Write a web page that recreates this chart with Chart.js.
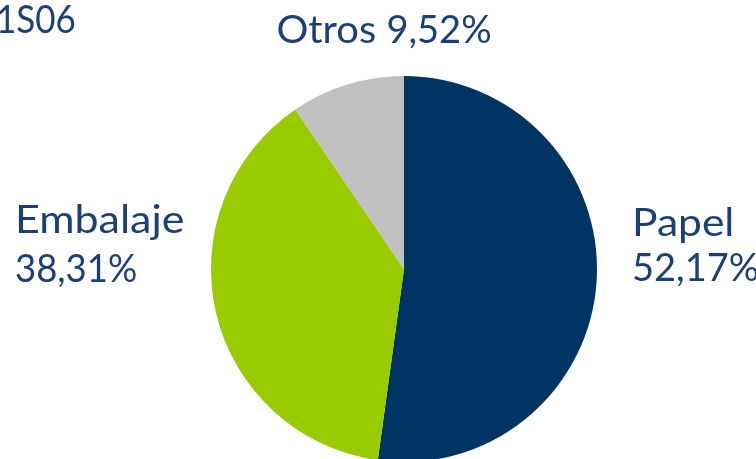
<!DOCTYPE html>
<html>
<head>
<meta charset="utf-8">
<script src="https://cdn.jsdelivr.net/npm/chart.js@4"></script>
<style>
  html, body { margin: 0; padding: 0; background: #ffffff; overflow: hidden; }
  #wrap { position: relative; width: 756px; height: 475px; }
</style>
</head>
<body>
<div id="wrap"><canvas id="grafico"></canvas></div>
<script>
// datos del grafico
const categorias = ["Papel", "Embalaje", "Otros"];
const porcentajes = [52.17, 38.31, 9.52];
const colores = ["#003462", "#99cc00", "#c0c0c0"];
const titulo = "1S06";

const corTexto = "#1b3f78";
const fonte = "38px Lato, 'DejaVu Sans', sans-serif";

function fmt(v) {
  return v.toFixed(2).replace(".", ",") + "%";
}

// texto esticado na horizontal (fonte original e mais larga)
function texto(ctx, s, x, y, esticar) {
  ctx.save();
  ctx.translate(x, y);
  ctx.scale(esticar, 1);
  ctx.fillText(s, 0, 0);
  ctx.restore();
}

// etiquetas escritas ao lado da pizza
const etiquetas = {
  id: "etiquetas",
  afterDraw(chart) {
    const ctx = chart.ctx;
    ctx.save();
    ctx.fillStyle = corTexto;
    ctx.font = fonte;
    ctx.textBaseline = "alphabetic";
    ctx.textAlign = "left";

    // titulo cortado no canto
    texto(ctx, titulo, -4, 33, 0.92);

    // Otros
    const w1 = ctx.measureText(categorias[2] + " ").width * 1.05;
    const w2 = ctx.measureText(fmt(porcentajes[2])).width;
    const x0 = 384 - (w1 + w2) / 2;
    texto(ctx, categorias[2] + " ", x0, 43, 1.05);
    texto(ctx, fmt(porcentajes[2]), x0 + w1, 43, 1);

    // Embalaje
    texto(ctx, categorias[1], 15, 233, 1.13);
    texto(ctx, fmt(porcentajes[1]), 15, 282, 0.96);

    // Papel
    texto(ctx, categorias[0], 632, 236, 1.12);
    texto(ctx, fmt(porcentajes[0]), 632, 281, 1);
    ctx.restore();
  }
};

new Chart(document.getElementById("grafico"), {
  type: "pie",
  data: {
    labels: categorias,
    datasets: [{
      data: porcentajes,
      backgroundColor: colores,
      borderWidth: 0
    }]
  },
  options: {
    responsive: true,
    maintainAspectRatio: false,
    animation: false,
    layout: { padding: { top: 76, bottom: 13, left: 211, right: 159 } },
    plugins: {
      legend: { display: false },
      tooltip: { enabled: false }
    }
  },
  plugins: [etiquetas]
});
</script>
</body>
</html>
